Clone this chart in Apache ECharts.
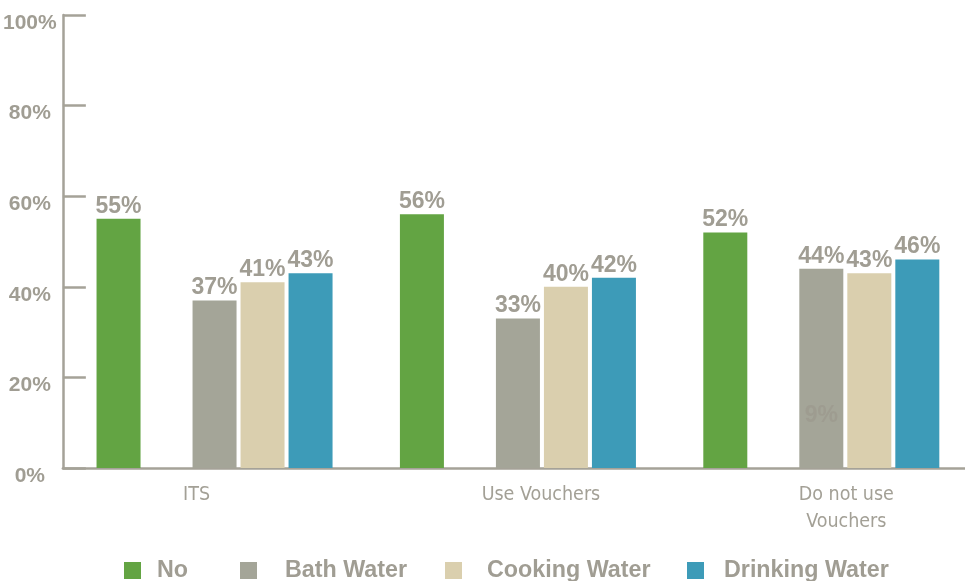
<!DOCTYPE html>
<html>
<head>
<meta charset="utf-8">
<script src="https://cdn.jsdelivr.net/npm/echarts@6/dist/echarts.min.js"></script>
<style>html,body{margin:0;padding:0;background:#fff;overflow:hidden;}#c{width:973px;height:581px;}</style>
</head>
<body>
<div id="c"></div>
<script>
const categories = ['ITS', 'Use Vouchers', 'Do not use\nVouchers'];
const noValues = [55, 56, 52];
const yesValues = ['-', '-', '-'];
const bathValues = [37, 33, 44];
const cookingValues = [41, 40, 43];
const drinkingValues = [43, 42, 46];
const strayValues = ['-', '-', 9];
const yTicks = [0, 20, 40, 60, 80, 100];

const TXT = '#a09d93';
const FONT = "'Liberation Sans', Arial, Helvetica, sans-serif";
const NARROW = "'Liberation Sans Narrow', 'DejaVu Sans Condensed', 'Liberation Sans', sans-serif";

const labelCfg = {
  show: true, position: 'top', distance: 1,
  formatter: '{c}%', color: TXT, fontFamily: FONT, fontWeight: 'bold',
  fontSize: 23, lineHeight: 23
};

function legendAt(name, left, gap) {
  return {
    data: [name], left: left, top: 559, padding: 0,
    icon: 'rect', itemWidth: 17, itemHeight: 17,
    selectedMode: false,
    textStyle: { color: TXT, fontFamily: FONT, fontWeight: 'bold', fontSize: 23.3, lineHeight: 17, padding: [0, 0, 0, gap] }
  };
}

const catStyle = { color: '#a3a096', fontFamily: NARROW, fontSize: 19.5, lineHeight: 27 };
const richCat = {
  c0: Object.assign({ padding: [0, 36, 0, 0] }, catStyle),
  c1: Object.assign({ padding: [0, 0, 0, 46] }, catStyle),
  c2: Object.assign({ padding: [0, 0, 0, 50] }, catStyle)
};

const chart = echarts.init(document.getElementById('c'));
chart.setOption({
  animation: false,
  backgroundColor: '#fff',
  grid: { left: 62.5, right: 0, top: 15, bottom: 113, containLabel: false },
  legend: [
    legendAt('No', 124, 11),
    legendAt('Bath Water', 240, 23),
    legendAt('Cooking Water', 445, 20),
    legendAt('Drinking Water', 687, 15)
  ],
  xAxis: {
    type: 'category', data: categories,
    axisLine: { lineStyle: { color: '#a5a298', width: 2.5 } },
    axisTick: { inside: true, length: 11, lineStyle: { color: '#a5a298', width: 2 } },
    axisLabel: Object.assign({
      margin: 13, rich: richCat,
      formatter: function (v, i) {
        return v.split('\n').map(function (s) { return '{c' + i + '|' + s + '}'; }).join('\n');
      }
    }, catStyle)
  },
  yAxis: {
    type: 'value', min: 0, max: 100, interval: 20,
    splitLine: { show: false },
    axisLine: { show: true, lineStyle: { color: '#a5a298', width: 2.5 } },
    axisTick: { show: true, inside: true, length: 23, lineStyle: { color: '#a5a298', width: 2.5 } },
    axisLabel: {
      formatter: function (v) { return yTicks.indexOf(v) >= 0 ? v + '%' : ''; },
      color: TXT, fontFamily: FONT, fontWeight: 'bold', fontSize: 21,
      align: 'center', margin: 33, verticalAlign: 'top', lineHeight: 16
    }
  },
  series: [
    { name: 'No', type: 'bar', data: noValues, barWidth: 44, barGap: '9.1%', itemStyle: { color: '#63a443' }, label: labelCfg },
    { name: 'Yes', type: 'bar', data: yesValues, barWidth: 44, barGap: '9.1%', itemStyle: { color: '#ffffff' } },
    { name: 'Bath Water', type: 'bar', data: bathValues, barWidth: 44, barGap: '9.1%', itemStyle: { color: '#a4a598' }, label: labelCfg },
    { name: 'Cooking Water', type: 'bar', data: cookingValues, barWidth: 44, barGap: '9.1%', itemStyle: { color: '#dacfae' }, label: labelCfg },
    { name: 'Drinking Water', type: 'bar', data: drinkingValues, barWidth: 44, barGap: '9.1%', itemStyle: { color: '#3d9bb8' }, label: labelCfg },
    { name: 'stray', type: 'scatter', data: strayValues, symbolSize: 0, z: 10,
      label: Object.assign({}, labelCfg, { color: '#9c9a8f', distance: 0 }) }
  ]
});
</script>
</body>
</html>
